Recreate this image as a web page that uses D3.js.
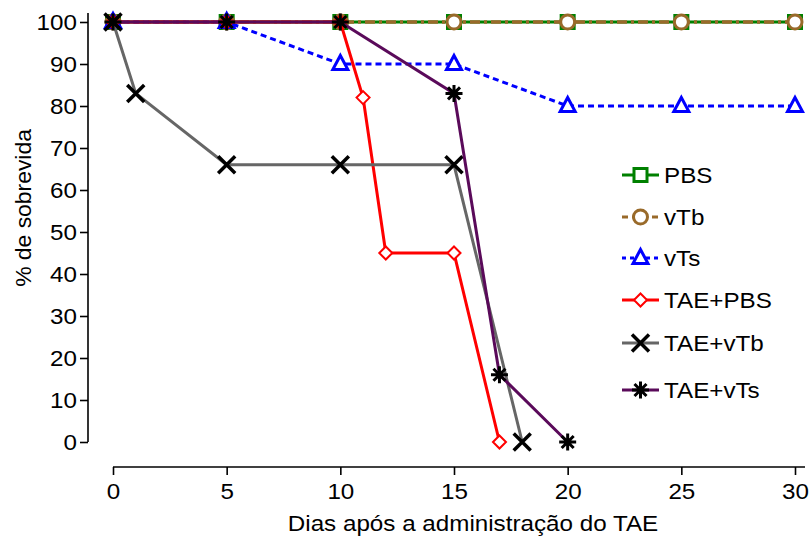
<!DOCTYPE html>
<html>
<head>
<meta charset="utf-8">
<script src="https://cdn.jsdelivr.net/npm/d3@7"></script>
<style>
body{margin:0;background:#fff;}
svg{display:block;font-family:"Liberation Sans",Arial,sans-serif;}
</style>
</head>
<body>
<svg id="chart" width="810" height="536"></svg>
<script>
const seriesNames = ["PBS","vTb","vTs","TAE+PBS","TAE+vTb","TAE+vTs"];
const pbsDays = [0,5,10,15,20,25,30];
const pbsVals = [100,100,100,100,100,100,100];
const vtbDays = [0,5,10,15,20,25,30];
const vtbVals = [100,100,100,100,100,100,100];
const vtsDays = [0,5,10,15,20,25,30];
const vtsVals = [100,100,90,90,80,80,80];
const taePbsDays = [0,5,10,11,12,15,17];
const taePbsVals = [100,100,100,82,45,45,0];
const taeVtbDays = [0,1,5,10,15,18];
const taeVtbVals = [100,83,66,66,66,0];
const taeVtsDays = [0,5,10,15,17,20];
const taeVtsVals = [100,100,100,83,16,0];
const xTicks = [0,5,10,15,20,25,30];
const yTicks = [0,10,20,30,40,50,60,70,80,90,100];

const styles = [
  {color:"#008000", dash:null, marker:"square"},
  {color:"#996a2a", dash:"10,4,3,4", marker:"circle"},
  {color:"#0000ff", dash:"6,4", marker:"triangle"},
  {color:"#ff0000", dash:null, marker:"diamond"},
  {color:"#666666", dash:null, marker:"x"},
  {color:"#5a0a5a", dash:null, marker:"star"}
];
const data = [
  [pbsDays,pbsVals],[vtbDays,vtbVals],[vtsDays,vtsVals],
  [taePbsDays,taePbsVals],[taeVtbDays,taeVtbVals],[taeVtsDays,taeVtsVals]
].map((d,i)=>({name:seriesNames[i], pts:d[0].map((x,j)=>({x, y:d[1][j]})), style:styles[i]}));

const svg = d3.select("#chart");
const x = d3.scaleLinear().domain([0,30]).range([113,795]);
const y = d3.scaleLinear().domain([0,100]).range([442,22]);
const FS = 22;

function stretch(sel, f){
  sel.each(function(){
    const L = this.getComputedTextLength();
    d3.select(this).attr("textLength", L*f).attr("lengthAdjust","spacingAndGlyphs");
  });
}

// axes
const yAxis = svg.append("g").attr("transform","translate(88,0)")
  .call(d3.axisLeft(y).tickValues(yTicks).tickSize(8).tickSizeOuter(0).tickPadding(3));
yAxis.select(".domain").attr("d","M0,13V442");
const xAxis = svg.append("g").attr("transform","translate(0,467)")
  .call(d3.axisBottom(x).tickValues(xTicks).tickSize(8).tickSizeOuter(0).tickPadding(8));
xAxis.select(".domain").attr("d","M113,0H805");
svg.selectAll(".tick text").attr("font-size",FS).attr("fill","#000").attr("font-family","Liberation Sans, Arial, sans-serif");
svg.selectAll(".domain, .tick line").attr("stroke","#000").attr("stroke-width",1.6);
stretch(svg.selectAll(".tick text"), 1.1);

const yl = svg.append("text").attr("transform","translate(31,208) rotate(-90)").attr("text-anchor","middle")
  .attr("font-size",FS).text("% de sobrevida");
stretch(yl, 1.04);
const xl = svg.append("text").attr("x",473).attr("y",531).attr("text-anchor","middle")
  .attr("font-size",FS).text("Dias após a administração do TAE");
stretch(xl, 1.1);

function drawMarker(g, type, color, cx, cy){
  if(type==="square"){
    g.append("rect").attr("x",cx-6.5).attr("y",cy-6.5).attr("width",13).attr("height",13)
      .attr("fill","#fff").attr("stroke",color).attr("stroke-width",3);
  } else if(type==="circle"){
    g.append("circle").attr("cx",cx).attr("cy",cy).attr("r",7)
      .attr("fill","#fff").attr("stroke",color).attr("stroke-width",3);
  } else if(type==="triangle"){
    g.append("path").attr("d",`M${cx},${cy-8.5}L${cx+7.5},${cy+5.5}L${cx-7.5},${cy+5.5}Z`)
      .attr("fill","#fff").attr("stroke",color).attr("stroke-width",3).attr("stroke-linejoin","miter");
  } else if(type==="diamond"){
    g.append("path").attr("d",`M${cx},${cy-6.5}L${cx+6.5},${cy}L${cx},${cy+6.5}L${cx-6.5},${cy}Z`)
      .attr("fill","#fff").attr("stroke",color).attr("stroke-width",2);
  } else if(type==="x"){
    const s=8.5;
    g.append("path").attr("d",`M${cx-s},${cy-s}L${cx+s},${cy+s}M${cx+s},${cy-s}L${cx-s},${cy+s}`)
      .attr("stroke","#000").attr("stroke-width",3.5);
  } else if(type==="star"){
    const s=8.5, d=6;
    g.append("path").attr("d",`M${cx},${cy-s}V${cy+s}M${cx-s},${cy}H${cx+s}M${cx-d},${cy-d}L${cx+d},${cy+d}M${cx+d},${cy-d}L${cx-d},${cy+d}`)
      .attr("stroke","#000").attr("stroke-width",3);
  }
}

const line = d3.line().x(d=>x(d.x)).y(d=>y(d.y));
data.forEach(s=>{
  const g = svg.append("g");
  g.append("path").attr("d",line(s.pts)).attr("fill","none").attr("stroke",s.style.color)
    .attr("stroke-width",s.name==="vTb"?3.5:3).attr("stroke-dasharray",s.style.dash);
  s.pts.forEach(p=>drawMarker(g, s.style.marker, s.style.color, x(p.x), y(p.y)));
});

// legend
const legY = [175,217,258,300,343,390];
data.forEach((s,i)=>{
  const g = svg.append("g");
  const yy = legY[i];
  g.append("line").attr("x1",622).attr("x2",659).attr("y1",yy).attr("y2",yy)
    .attr("stroke",s.style.color).attr("stroke-width",3).attr("stroke-dasharray",s.style.dash ? (s.name==="vTb"?"6,4":"4,4") : null);
  drawMarker(g, s.style.marker, s.style.color, 640.5, yy);
  const t = g.append("text").attr("x",664).attr("y",yy+8).attr("font-size",FS).text(s.name);
  stretch(t, 1.1);
});
</script>
</body>
</html>
